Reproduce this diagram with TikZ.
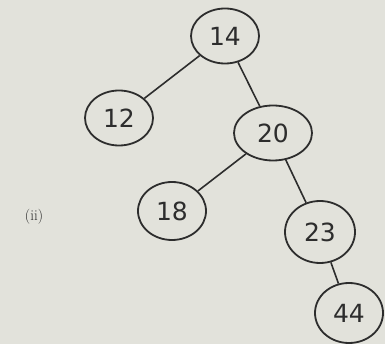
\documentclass[tikz,border=0pt]{standalone}
\usepackage{fontspec}
\newfontfamily\handfont{DejaVu Sans}
\usetikzlibrary{shapes.geometric}
\definecolor{paper}{RGB}{226,226,219}
\definecolor{ink}{RGB}{45,45,45}
\begin{document}
\begin{tikzpicture}[x=1pt,y=-1pt,
  tnode/.style={ellipse,draw=ink,line width=1.8pt,inner sep=0pt,
    minimum width=68pt,minimum height=55pt,text=ink,
    font=\handfont\fontsize{25}{28}\selectfont},
  edge/.style={draw=ink,line width=1.6pt}]
\fill[paper] (0,0) rectangle (385,344);
\useasboundingbox (0,0) rectangle (385,344);
\node[tnode] (n14) at (225,36) {14};
\node[tnode] (n12) at (119,118) {12};
\node[tnode,minimum width=78pt] (n20) at (273,133) {20};
\node[tnode,minimum height=58pt] (n18) at (172,211) {18};
\node[tnode,minimum width=70pt,minimum height=62pt] (n23) at (320,232) {23};
\node[tnode,minimum height=60pt] (n44) at (349,313) {44};
\node[text=ink,font=\fontsize{15}{17}\selectfont] (lab) at (34,217) {(ii)};
\draw[edge] (n14) -- (n12);
\draw[edge] (n14) -- (n20);
\draw[edge] (n20) -- (n18);
\draw[edge] (n20) -- (n23);
\draw[edge] (n23) -- (n44);
\end{tikzpicture}
\end{document}
